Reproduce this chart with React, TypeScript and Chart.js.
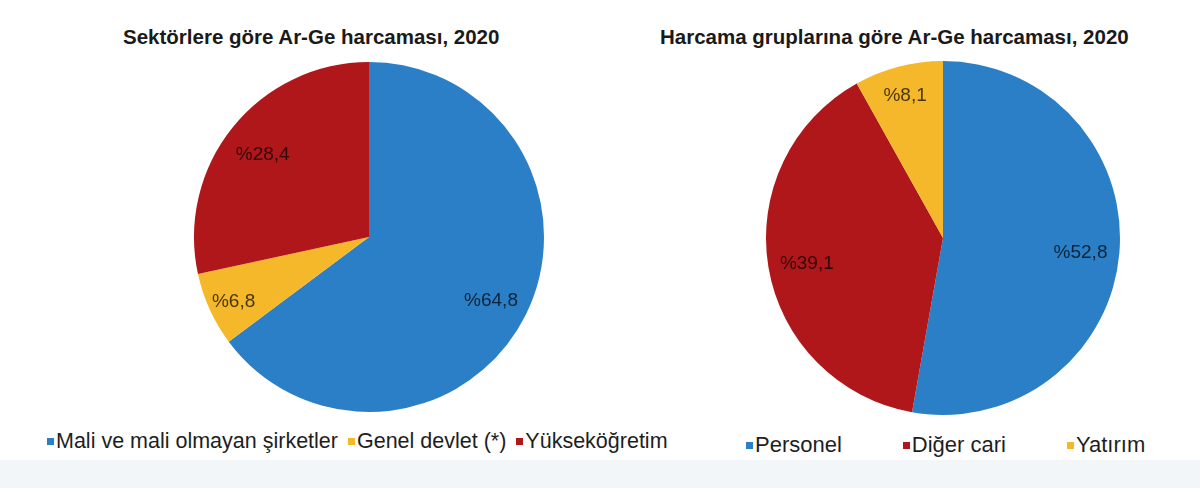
import { Chart, registerables, Plugin } from "chart.js";
import { useEffect, useRef } from "react";

Chart.register(...registerables);

const sectorLabels = ["Mali ve mali olmayan şirketler", "Genel devlet (*)", "Yükseköğretim"];
const sectorValues = [64.8, 6.8, 28.4];
const sectorColors = ["#2a7fc6", "#f6b82b", "#b0171a"];

const groupLabels = ["Personel", "Diğer cari", "Yatırım"];
const groupValues = [52.8, 39.1, 8.1];
const groupColors = ["#2a7fc6", "#b0171a", "#f6b82b"];

const FONT = "'Liberation Sans', Arial, sans-serif";

// writes "%64,8" style labels inside each slice
const sliceLabels: Plugin<"pie"> = {
  id: "sliceLabels",
  afterDatasetsDraw(chart) {
    const { ctx } = chart;
    const meta = chart.getDatasetMeta(0);
    const values = chart.data.datasets[0].data as number[];
    ctx.save();
    ctx.font = `19px ${FONT}`;
    ctx.fillStyle = "rgba(0, 0, 0, 0.72)";
    ctx.textAlign = "center";
    ctx.textBaseline = "middle";
    meta.data.forEach((el: any, i) => {
      const mid = (el.startAngle + el.endAngle) / 2;
      const r = el.outerRadius * (values[i] < 10 ? 0.85 : 0.78);
      const text = "%" + values[i].toFixed(1).replace(".", ",");
      ctx.fillText(text, el.x + Math.cos(mid) * r, el.y + Math.sin(mid) * r + 3);
    });
    ctx.restore();
  },
};

interface PieProps {
  labels: string[];
  values: number[];
  colors: string[];
  cx: number;
  cy: number;
  radius: number;
}

const Pie = ({ labels, values, colors, cx, cy, radius }: PieProps) => {
  const canvasRef = useRef<HTMLCanvasElement>(null);
  const chartRef = useRef<Chart<"pie"> | null>(null);
  const pad = 4;
  const size = (radius + pad) * 2;

  useEffect(() => {
    if (!canvasRef.current) return;
    chartRef.current = new Chart(canvasRef.current, {
      type: "pie",
      data: {
        labels,
        datasets: [
          {
            data: values,
            backgroundColor: colors,
            borderWidth: 0,
          },
        ],
      },
      options: {
        responsive: true,
        maintainAspectRatio: false,
        animation: false,
        layout: { padding: pad },
        plugins: {
          legend: { display: false },
          title: { display: false },
          tooltip: { enabled: false },
        },
      },
      plugins: [sliceLabels],
    });
    return () => {
      chartRef.current?.destroy();
    };
  }, []);

  return (
    <div
      style={{
        position: "absolute",
        left: cx - size / 2,
        top: cy - size / 2,
        width: size,
        height: size,
      }}
    >
      <canvas ref={canvasRef} />
    </div>
  );
};

interface LegendProps {
  labels: string[];
  colors: string[];
  left: number;
  top: number;
  fontSize: number;
  gap: number;
}

const Legend = ({ labels, colors, left, top, fontSize, gap }: LegendProps) => (
  <div
    style={{
      position: "absolute",
      left,
      top,
      display: "flex",
      alignItems: "center",
      whiteSpace: "nowrap",
      fontSize,
      lineHeight: 1,
      color: "#1e1e1e",
    }}
  >
    {labels.map((label, i) => (
      <span
        key={label}
        style={{ display: "flex", alignItems: "center", marginRight: i < labels.length - 1 ? gap : 0 }}
      >
        <span
          style={{ width: 7, height: 7, background: colors[i], marginRight: 2, display: "inline-block" }}
        />
        {label}
      </span>
    ))}
  </div>
);

const titleStyle = {
  position: "absolute" as const,
  top: 27,
  fontSize: 20.5,
  fontWeight: "bold" as const,
  lineHeight: 1,
  color: "#1a1a1a",
  whiteSpace: "nowrap" as const,
};

const App = () => {
  return (
    <div
      style={{
        position: "fixed",
        left: 0,
        top: 0,
        width: 1200,
        height: 488,
        background: "#ffffff",
        fontFamily: FONT,
        overflow: "hidden",
      }}
    >
      <div style={{ position: "absolute", left: 0, top: 460, width: 1200, height: 28, background: "#f2f6f9" }} />

      <div style={{ ...titleStyle, left: 123 }}>Sektörlere göre Ar-Ge harcaması, 2020</div>
      <div style={{ ...titleStyle, left: 660 }}>Harcama gruplarına göre Ar-Ge harcaması, 2020</div>

      <Pie labels={sectorLabels} values={sectorValues} colors={sectorColors} cx={369} cy={237} radius={175} />
      <Pie labels={groupLabels} values={groupValues} colors={groupColors} cx={942.5} cy={238} radius={177} />

      <Legend labels={sectorLabels} colors={sectorColors} left={47} top={431} fontSize={21.5} gap={10} />
      <Legend labels={groupLabels} colors={groupColors} left={746} top={434} fontSize={22} gap={61} />
    </div>
  );
};

export default App;
